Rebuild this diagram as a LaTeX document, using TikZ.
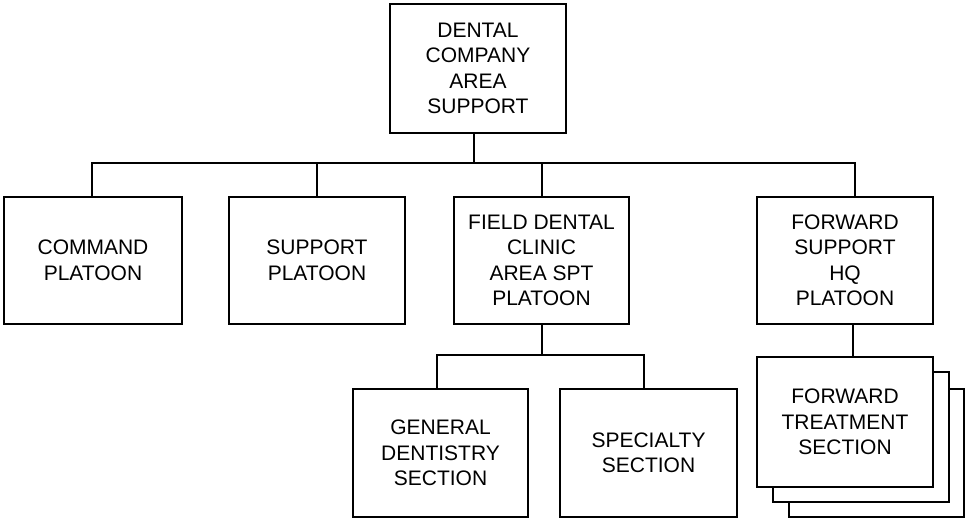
\documentclass[tikz,border=0pt]{standalone}
\usepackage{fontspec}
\setmainfont{Liberation Sans}
\begin{document}
\begin{tikzpicture}[x=1pt,y=-1pt,
  box/.style={draw=black,line width=2pt,fill=white,align=center,inner sep=0pt,
    font=\fontsize{21}{25.5}\selectfont},
  conn/.style={line width=2pt}]
\useasboundingbox (0,0) rectangle (965,518);
% top
\node[box,minimum width=176pt,minimum height=129pt] (top) at (478,68.5) {DENTAL\\COMPANY\\AREA\\SUPPORT};
% row 2
\node[box,minimum width=178pt,minimum height=127pt] (cmd) at (93,260.5) {COMMAND\\PLATOON};
\node[box,minimum width=176pt,minimum height=127pt] (sup) at (317,260.5) {SUPPORT\\PLATOON};
\node[box,minimum width=175pt,minimum height=127pt] (fdc) at (541.5,260.5) {FIELD DENTAL\\CLINIC\\AREA SPT\\PLATOON};
\node[box,minimum width=176pt,minimum height=127pt] (fwd) at (845,260.5) {FORWARD\\SUPPORT\\HQ\\PLATOON};
% row 3
\node[box,minimum width=175pt,minimum height=128pt] (gen) at (440.5,453) {GENERAL\\DENTISTRY\\SECTION};
\node[box,minimum width=177pt,minimum height=128pt] (spc) at (648.5,453) {SPECIALTY\\SECTION};
% stacked forward treatment
\node[box,minimum width=175pt,minimum height=128pt] (ft3) at (876.5,453) {};
\node[box,minimum width=176pt,minimum height=130pt] (ft2) at (861,437) {};
\node[box,minimum width=176pt,minimum height=130pt] (ft) at (845,422) {FORWARD\\TREATMENT\\SECTION};
% bus
\coordinate (busL) at (92,163);
\coordinate (busR) at (855,163);
\coordinate (bus2L) at (437,355);
\coordinate (bus2R) at (644,355);
\draw[conn] ([xshift=-4pt]top.south) -- ([xshift=-4pt]top.south |- busL);
\draw[conn,line cap=rect] (busL) -- (busR);
\draw[conn] (busL) -- (busL |- cmd.north);
\draw[conn] (sup.north |- busL) -- (sup.north);
\draw[conn] (fdc.north |- busL) -- (fdc.north);
\draw[conn] (busR) -- (busR |- fwd.north);
% field subs
\draw[conn] (fdc.south) -- (fdc.south |- bus2L);
\draw[conn,line cap=rect] (bus2L) -- (bus2R);
\draw[conn] (bus2L) -- (bus2L |- gen.north);
\draw[conn] (bus2R) -- (bus2R |- spc.north);
% forward
\draw[conn] ([xshift=8pt]fwd.south) -- ([xshift=8pt]ft.north);
\end{tikzpicture}
\end{document}
